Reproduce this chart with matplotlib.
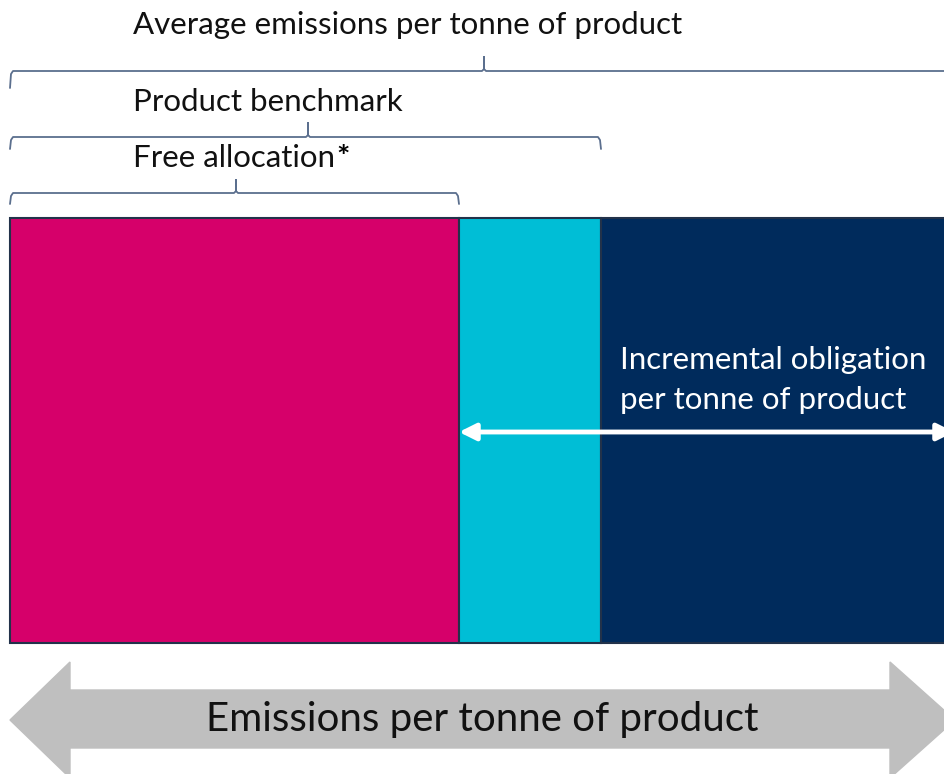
import numpy as np
import matplotlib.pyplot as plt
from matplotlib.patches import Polygon

plt.rcParams['font.family'] = ['Lato', 'DejaVu Sans']

# Segments of the emissions bar (arbitrary emission units, left to right)
segment_names = ['Free allocation', 'Benchmark gap', 'Incremental obligation']
segment_widths = [449, 142, 345]
segment_colors = ['#D6006A', '#00BED6', '#002B5C']

# Braces above the bar: label and where each one ends
brace_labels = ['Free allocation', 'Product benchmark', 'Average emissions per tonne of product']
brace_ends = [449, 591, 960]

axis_label = 'Emissions per tonne of product'
inc_label = 'Incremental obligation\nper tonne of product'

x0 = 0  # start of the bar


def brace(ax, xa, xb, y, depth, tip, xm=None):
    # horizontal curly bracket opening downwards
    if xm is None:
        xm = (xa + xb) / 2
    xs = [xa, xa + 1, xa + 3, xm - 2, xm, xm, xm, xm + 2, xb - 3, xb - 1, xb]
    ys = [y + depth, y + 3, y, y, y - 2, y - tip, y - 2, y, y, y + 3, y + depth]
    ax.plot(xs, ys, color='#5B6F8E', lw=1.3, solid_joinstyle='round',
            solid_capstyle='round')


fig = plt.figure(figsize=(9.44, 7.74), dpi=100)
ax = fig.add_axes([0, 0, 1, 1])
ax.set_xlim(-10, 934)
ax.set_ylim(774, 0)
ax.axis('off')

# stacked horizontal bar
lefts = np.cumsum([x0] + segment_widths[:-1])
ax.barh(430.5, segment_widths, left=lefts, height=425, color=segment_colors,
        edgecolor='#22324A', linewidth=1.5)

# braces
brace_y = [193, 137, 71]
brace_tip = [13, 14, 14]
brace_depth = [11, 12, 17]
brace_mid = [226, 298, 474]
for end, y, tp, d, xm in zip(brace_ends, brace_y, brace_tip, brace_depth, brace_mid):
    brace(ax, x0, end, y, d, tp, xm)

fs = 22.5
ax.text(123, 25, brace_labels[2], fontsize=fs, va='center', ha='left', color='#111111')
ax.text(123, 102, brace_labels[1], fontsize=fs, va='center', ha='left', color='#111111')
t = ax.text(123, 158, brace_labels[0], fontsize=fs, va='center', ha='left', color='#111111')
fig.canvas.draw()
bb = t.get_window_extent().transformed(ax.transData.inverted())
ax.text(bb.x1 + 1, 158, '*', fontsize=fs, fontweight='bold', va='center', ha='left', color='#000000')

# incremental obligation label and white double arrow
ax.text(610, 380, inc_label, fontsize=22.5, color='white', va='center', ha='left', linespacing=1.55)
ax.annotate('', xy=(x0 + segment_widths[0], 432), xytext=(944, 432),
            arrowprops=dict(arrowstyle='<|-|>', color='white', lw=3.5,
                            mutation_scale=25, shrinkA=0, shrinkB=0))

# big grey axis arrow at the bottom
arrow = Polygon([(0, 720), (60, 662), (60, 690), (880, 690), (880, 662),
                 (945, 720), (880, 778), (880, 748), (60, 748), (60, 778)],
                closed=True, color='#BFBFBF', clip_on=False)
ax.add_patch(arrow)
ax.text(472, 719, axis_label, fontsize=29, ha='center', va='center', color='#111111')

fig.savefig('out.png', dpi=100)
